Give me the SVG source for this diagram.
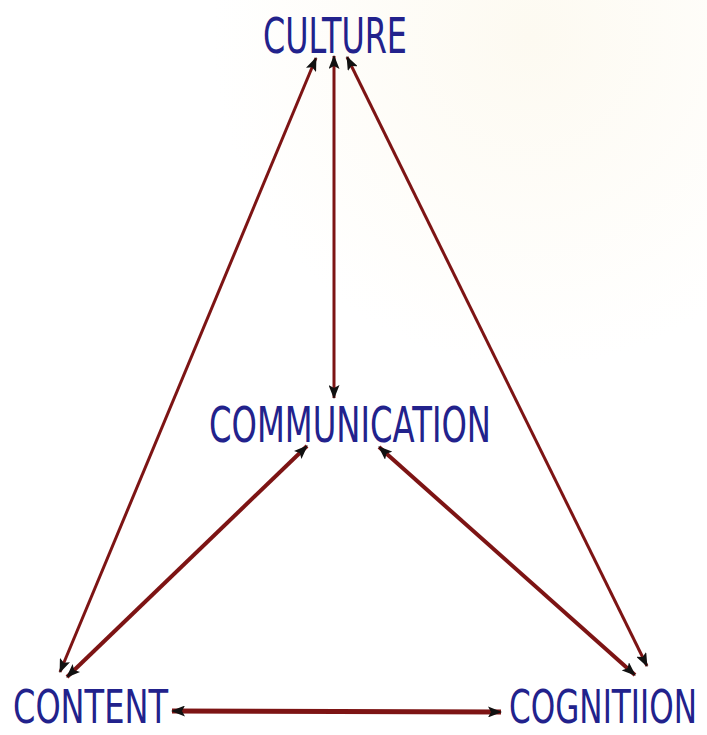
<svg xmlns="http://www.w3.org/2000/svg" width="707" height="735" viewBox="0 0 707 735">
<defs>
<style>
.lbl{font-family:"DejaVu Sans","Liberation Sans",sans-serif;fill:#22228c;}
.c{stroke:#7d1414;fill:none;marker-start:url(#ah);marker-end:url(#ah);}
</style>
<marker id="ah" viewBox="0 0 14 11" refX="13" refY="5.5" markerWidth="14" markerHeight="11" markerUnits="userSpaceOnUse" orient="auto-start-reverse">
<path d="M0,0 L14,5.5 L0,11 L3,5.5 Z" fill="#111"/>
</marker>
<radialGradient id="bg1" cx="0.75" cy="0.05" r="0.45">
<stop offset="0" stop-color="#fdfaf1"/>
<stop offset="1" stop-color="#ffffff"/>
</radialGradient>
</defs>
<rect width="707" height="735" fill="url(#bg1)"/>
<g id="connectors">
<line class="c" x1="316" y1="58" x2="60" y2="672" stroke-width="3"/>
<line class="c" x1="334" y1="56" x2="334" y2="398" stroke-width="3"/>
<line class="c" x1="347" y1="57" x2="647" y2="666" stroke-width="3"/>
<line class="c" x1="307" y1="446" x2="67" y2="677" stroke-width="4"/>
<line class="c" x1="379" y1="447" x2="635" y2="675" stroke-width="4"/>
<line class="c" x1="172" y1="711" x2="501" y2="712" stroke-width="5"/>
</g>
<g id="culture"><text class="lbl" transform="translate(263,53) scale(1,1.62)" font-size="30.9" x="0" y="0" textLength="144" lengthAdjust="spacingAndGlyphs">CULTURE</text></g>
<g id="communication"><text class="lbl" transform="translate(209,442) scale(1,1.565)" font-size="32" x="0" y="0" textLength="282" lengthAdjust="spacingAndGlyphs">COMMUNICATION</text></g>
<g id="content"><text class="lbl" transform="translate(13,723) scale(1,1.433)" font-size="32" x="0" y="0" textLength="155" lengthAdjust="spacingAndGlyphs">CONTENT</text></g>
<g id="cognition"><text class="lbl" transform="translate(509,723) scale(1,1.476)" font-size="31.1" x="0" y="0" textLength="188" lengthAdjust="spacingAndGlyphs">COGNITIION</text></g>
</svg>
